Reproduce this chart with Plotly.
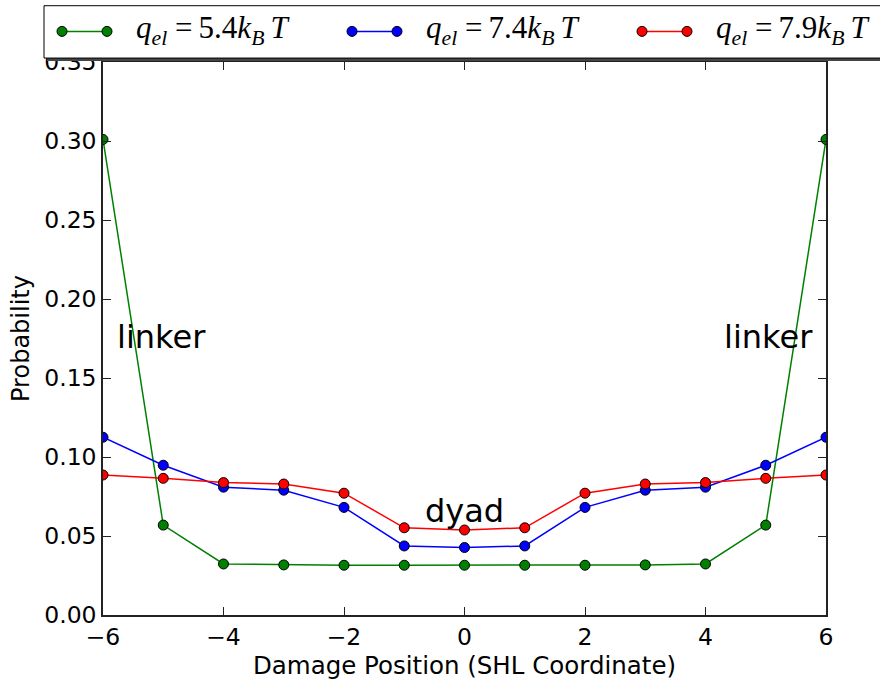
import plotly.graph_objects as go

# ---- data ----
positions = [-6, -5, -4, -3, -2, -1, 0, 1, 2, 3, 4, 5, 6]
q54 = [0.301, 0.0569, 0.0323, 0.0317, 0.0315, 0.0315, 0.0315, 0.0315, 0.0315, 0.0317, 0.0323, 0.0569, 0.301]
q74 = [0.1125, 0.0948, 0.0809, 0.0790, 0.0681, 0.0437, 0.0427, 0.0437, 0.0681, 0.0790, 0.0809, 0.0948, 0.1125]
q79 = [0.0886, 0.0865, 0.0838, 0.0829, 0.0771, 0.0552, 0.0538, 0.0552, 0.0771, 0.0829, 0.0838, 0.0865, 0.0886]
series_names = ["<i>q</i><sub><i>el</i></sub>\u2005=\u20095.4<i>k</i><sub><i>B</i></sub>\u2009<i>T</i>",
                "<i>q</i><sub><i>el</i></sub>\u2005=\u20097.4<i>k</i><sub><i>B</i></sub>\u2009<i>T</i>",
                "<i>q</i><sub><i>el</i></sub>\u2005=\u20097.9<i>k</i><sub><i>B</i></sub>\u2009<i>T</i>"]
series_colors = ["#008000", "#0000ff", "#ff0000"]
x_ticks = [-6, -4, -2, 0, 2, 4, 6]
y_ticks = [0.0, 0.05, 0.10, 0.15, 0.20, 0.25, 0.30, 0.35]
labels = [("linker", -5.03, 0.176), ("linker", 5.05, 0.176), ("dyad", 0.0, 0.066)]

W, H = 880, 686
ML, MR, MT, MB = 103, 54, 62, 64
PW, PH = W - ML - MR, H - MT - MB


def pxx(px):
    return (px - ML) / PW


def pxy(py):
    return (H - MB - py) / PH


fig = go.Figure()
for vals, name, col in zip([q54, q74, q79], series_names, series_colors):
    fig.add_trace(go.Scatter(
        x=positions, y=vals, mode="lines+markers", name=name,
        line=dict(color=col, width=1.5),
        marker=dict(color=col, size=10, line=dict(color="black", width=1)),
        showlegend=False,
    ))

shapes = []
annotations = []

# legend box with shadow (matplotlib style)
shapes.append(dict(type="rect", xref="paper", yref="paper", layer="above",
                   x0=pxx(47), x1=pxx(890), y0=pxy(61), y1=pxy(8),
                   fillcolor="#444444", line=dict(width=0)))
shapes.append(dict(type="rect", xref="paper", yref="paper", layer="above",
                   x0=pxx(44), x1=pxx(887), y0=pxy(58), y1=pxy(5),
                   fillcolor="white", line=dict(color="black", width=1)))
ly = 31
for i, (name, col) in enumerate(zip(series_names, series_colors)):
    x1p = 62 + 290 * i
    x2p = 107 + 290 * i
    shapes.append(dict(type="line", xref="paper", yref="paper", layer="above",
                       x0=pxx(x1p), x1=pxx(x2p), y0=pxy(ly), y1=pxy(ly),
                       line=dict(color=col, width=1.5)))
    for mx in (x1p, x2p):
        shapes.append(dict(type="circle", xref="paper", yref="paper", layer="above",
                           xsizemode="pixel", ysizemode="pixel",
                           xanchor=pxx(mx), yanchor=pxy(ly),
                           x0=-5, x1=5, y0=-5, y1=5,
                           fillcolor=col, line=dict(color="black", width=1)))
    annotations.append(dict(xref="paper", yref="paper", x=pxx(134 + 290 * i), y=pxy(ly - 1),
                            xanchor="left", yanchor="middle", showarrow=False,
                            text=name,
                            font=dict(family="Liberation Serif", size=31, color="black")))

for txt, xv, yv in labels:
    annotations.append(dict(xref="x", yref="y", x=xv, y=yv, text=txt, showarrow=False,
                            xanchor="center", yanchor="middle",
                            font=dict(family="DejaVu Sans", size=32, color="black")))

axis_common = dict(showline=True, linecolor="#222222", linewidth=1.5, mirror="allticks",
                   ticks="inside", ticklen=8, tickwidth=1.2, tickcolor="#222222",
                   showgrid=False, zeroline=False,
                   tickfont=dict(family="DejaVu Sans", size=23.5, color="black"))

fig.update_layout(
    width=W, height=H,
    margin=dict(l=ML, r=MR, t=MT, b=MB, pad=0),
    paper_bgcolor="white", plot_bgcolor="white",
    font=dict(family="DejaVu Sans", color="black"),
    xaxis=dict(range=[-6, 6], tickmode="array", tickvals=x_ticks,
               ticktext=[str(t).replace("-", "\u2212") for t in x_ticks],
               title=dict(text="Damage Position (SHL Coordinate)",
                          font=dict(family="DejaVu Sans", size=24.5), standoff=6),
               **axis_common),
    yaxis=dict(range=[0, 0.35], tickmode="array", tickvals=y_ticks,
               ticktext=["%.2f" % t for t in y_ticks],
               title=dict(text="Probability", font=dict(family="DejaVu Sans", size=24), standoff=8),
               **axis_common),
    shapes=shapes,
    annotations=annotations,
)

fig.write_html(
    "out.html",
    config={"displayModeBar": False},
    post_script="document.body.style.margin='0';document.body.style.padding='0';"
                "document.body.style.overflow='hidden';",
)
